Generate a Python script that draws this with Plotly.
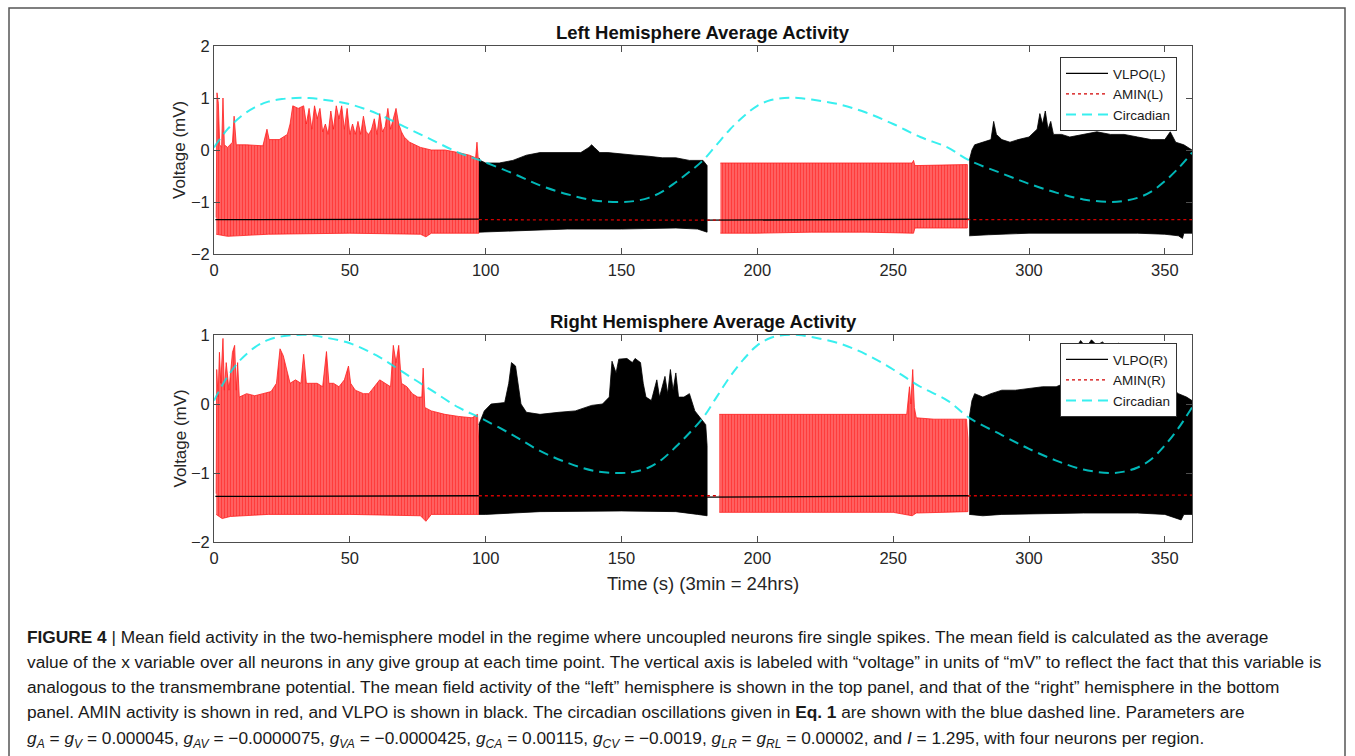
import plotly.graph_objects as go

W, H = 1355, 756

# ---------------- data ----------------
X_TICKS = [0, 50, 100, 150, 200, 250, 300, 350]
Y_TICKS_TOP = [-2, -1, 0, 1, 2]
Y_TICKS_BOT = [-2, -1, 0, 1]

CIRC_T = [0, 5, 10, 15, 20, 25, 30, 35, 40, 50, 60, 70, 80, 90, 98, 110, 120, 130, 140,
          150, 155, 160, 165, 170, 175, 180, 185, 190, 195, 200, 205, 210, 215, 220, 230,
          240, 250, 260, 270, 278, 290, 300, 310, 320, 330, 335, 340, 345, 350, 355, 360]
CIRC_V = [0.05, 0.4, 0.65, 0.82, 0.93, 0.98, 1.0, 1.0, 0.97, 0.88, 0.7, 0.45, 0.2, -0.05,
          -0.2, -0.45, -0.68, -0.85, -0.97, -1.0, -0.98, -0.92, -0.8, -0.62, -0.42, -0.2,
          0.1, 0.4, 0.65, 0.85, 0.96, 1.0, 1.0, 0.97, 0.88, 0.72, 0.5, 0.25, 0.05, -0.2,
          -0.45, -0.65, -0.82, -0.95, -1.0, -0.98, -0.92, -0.8, -0.6, -0.35, -0.05]

# Left hemisphere: envelopes (time, voltage) of the dense oscillation bands
L_AMIN_1_HI = [(0.8, -1.3), (1.1, 1.1), (1.6, 0.9), (2.1, 0.1), (2.8, 0.05), (3.3, 1.0),
               (3.8, 0.1), (5, 0.05), (6.8, 0.15), (7.4, 0.65), (8.2, 0.1), (12, 0.1),
               (18, 0.08), (19.5, 0.4), (20.3, 0.2), (24, 0.2), (27, 0.3), (28, 0.5),
               (29, 0.85), (31, 0.8), (33, 0.85), (34, 0.5), (35, 0.8), (36, 0.4), (37, 0.85),
               (38, 0.6), (39, 0.8), (40, 0.35), (41, 0.5), (42, 0.3), (43, 0.75), (44, 0.4),
               (45, 0.85), (46, 0.6), (47, 0.85), (48, 0.4), (49, 0.8), (50, 0.3), (51, 0.5),
               (52, 0.3), (53, 0.55), (54, 0.3), (55, 0.65), (56, 0.35), (57, 0.3), (58, 0.4),
               (59, 0.6), (60, 0.3), (61, 0.7), (62, 0.35), (63, 0.45), (64, 0.8), (65, 0.4),
               (66, 0.6), (67, 0.8), (68, 0.5), (69, 0.35), (70, 0.25), (72, 0.15), (74, 0.1),
               (76, 0.05), (80, 0.0), (85, 0.0), (90, -0.05), (94, -0.1), (96.3, -0.15),
               (96.8, 0.15), (97.3, -0.2), (97.5, -1.3)]
L_AMIN_1_LO = [(0.8, -1.62), (5, -1.66), (20, -1.62), (50, -1.6), (76, -1.62), (78, -1.67),
               (80, -1.6), (97.5, -1.6)]
L_VLPO_1_HI = [(97.5, -0.15), (98, -0.2), (100, -0.25), (105, -0.25), (110, -0.2), (115, -0.1),
               (120, -0.05), (130, -0.05), (135, -0.05), (138, 0.05), (139, 0.1), (140, 0.05),
               (142, -0.05), (145, -0.05), (150, -0.08), (155, -0.1), (160, -0.12), (165, -0.15),
               (170, -0.15), (175, -0.2), (180, -0.2), (181.5, -0.3)]
L_VLPO_1_LO = [(97.5, -1.58), (110, -1.55), (130, -1.52), (150, -1.52), (170, -1.5), (178, -1.52),
               (181.5, -1.58)]
L_AMIN_2_HI = [(186.4, -0.25), (200, -0.25), (220, -0.24), (240, -0.25), (257, -0.25),
               (257.5, -0.2), (258, -0.3), (277.3, -0.28)]
L_AMIN_2_LO = [(186.4, -1.6), (200, -1.6), (220, -1.58), (240, -1.58), (257.5, -1.6),
               (258, -1.5), (277.3, -1.5)]
L_VLPO_2_HI = [(278, -0.2), (279, 0.0), (280, 0.1), (283, 0.15), (286, 0.2), (287, 0.55),
               (288, 0.3), (290, 0.2), (293, 0.15), (296, 0.2), (300, 0.25), (303, 0.4),
               (304, 0.7), (305, 0.5), (306, 0.75), (307, 0.4), (308, 0.55), (309, 0.3),
               (312, 0.3), (315, 0.25), (320, 0.3), (325, 0.35), (330, 0.3), (335, 0.3),
               (340, 0.25), (345, 0.2), (350, 0.2), (352, 0.35), (354, 0.15), (357, 0.1),
               (360, 0.0)]
L_VLPO_2_LO = [(278, -1.65), (285, -1.63), (300, -1.6), (320, -1.6), (340, -1.6), (350, -1.62),
               (355, -1.65), (356.5, -1.7), (357, -1.6), (360, -1.6)]
L_VLPO_BASE_T = [0.5, 97.5, None, 181.5, 278]
L_VLPO_BASE_V = [-1.34, -1.33, None, -1.35, -1.33]
L_AMIN_BASE_T = [97.5, 186.4, None, 277.3, 360]
L_AMIN_BASE_V = [-1.34, -1.35, None, -1.34, -1.34]

# Right hemisphere
R_AMIN_1_HI = [(0.8, -1.3), (1.0, 0.5), (1.5, 0.1), (2.0, 0.75), (2.5, 0.3), (3.3, 0.95),
               (3.8, 0.2), (4.5, 0.6), (5.5, 0.2), (6.8, 0.75), (7.6, 0.85), (8.2, 0.2),
               (8.7, 0.6), (9.3, 0.1), (12, 0.15), (15, 0.12), (18, 0.15), (21, 0.18),
               (23, 0.3), (24.3, 0.8), (25.5, 0.7), (27, 0.45), (28, 0.3), (30, 0.35), (32, 0.3),
               (33, 0.72), (34, 0.3), (36, 0.3), (38, 0.3), (40, 0.25), (41.4, 0.76), (42.3, 0.3),
               (44, 0.3), (46, 0.25), (48, 0.35), (49.5, 0.55), (50.3, 0.3), (52, 0.2),
               (55, 0.15), (57, 0.15), (59, 0.25), (61, 0.35), (63, 0.3), (65, 0.25),
               (66, 0.85), (67, 0.6), (68, 0.85), (69, 0.3), (71, 0.25), (73, 0.15), (75, 0.1),
               (76.5, 0.1), (77, 0.52), (77.6, -0.05), (80, -0.1), (85, -0.15), (90, -0.18),
               (95, -0.2), (97, -0.15), (97.5, -0.6)]
R_AMIN_1_LO = [(0.8, -1.6), (3, -1.66), (6, -1.63), (20, -1.6), (50, -1.6), (76, -1.62),
               (78, -1.7), (80, -1.6), (97.5, -1.6)]
R_VLPO_1_HI = [(97.5, -0.3), (99.5, -0.1), (102, 0.0), (107, 0.02), (108.5, 0.3), (109.5, 0.6),
               (111, 0.55), (112, 0.25), (113, 0.0), (115, -0.12), (120, -0.15), (127, -0.12),
               (133, -0.1), (139, -0.02), (143, 0.0), (145.5, 0.1), (146.5, 0.62), (148, 0.45),
               (149, 0.65), (152, 0.66), (154, 0.6), (155, 0.66), (157, 0.6), (158, 0.3),
               (159, 0.1), (161, 0.05), (163, 0.35), (164, 0.1), (166, 0.4), (167, 0.15),
               (168, 0.5), (169, 0.2), (170, 0.45), (171, 0.1), (173, 0.1), (175, 0.15),
               (177, -0.1), (179, -0.2), (181, -0.3), (181.5, -0.6)]
R_VLPO_1_LO = [(97.5, -1.6), (100, -1.6), (120, -1.56), (150, -1.55), (170, -1.56), (178, -1.6),
               (181.5, -1.62)]
R_AMIN_2_HI = [(186, -0.15), (200, -0.15), (220, -0.14), (240, -0.15), (250, -0.14),
               (255, -0.15), (256, 0.25), (256.5, 0.0), (257.2, 0.5), (257.8, -0.05),
               (258.5, -0.2), (265, -0.22), (277, -0.22), (277.5, -0.5)]
R_AMIN_2_LO = [(186, -1.57), (220, -1.57), (250, -1.57), (257, -1.62), (258.5, -1.58),
               (277.5, -1.56)]
R_VLPO_2_HI = [(278, -0.2), (279, 0.05), (280, 0.15), (283, 0.1), (286, 0.15), (290, 0.2),
               (295, 0.2), (300, 0.22), (305, 0.25), (310, 0.25), (313, 0.3), (315, 0.88),
               (317, 0.8), (319, 0.92), (321, 0.82), (323, 0.93), (325, 0.85), (327, 0.9),
               (330, 0.8), (333, 0.88), (336, 0.8), (339, 0.87), (342, 0.8), (343, 0.4),
               (345, 0.35), (350, 0.3), (355, 0.15), (358, 0.1), (360, 0.05)]
R_VLPO_2_LO = [(278, -1.6), (283, -1.62), (290, -1.6), (320, -1.58), (340, -1.58), (350, -1.6),
               (356, -1.68), (357, -1.6), (360, -1.6)]
R_VLPO_BASE_T = [0.5, 97.5, None, 181.5, 278]
R_VLPO_BASE_V = [-1.34, -1.33, None, -1.35, -1.33]
R_AMIN_BASE_T = [97.5, 186, None, 277.5, 360]
R_AMIN_BASE_V = [-1.33, -1.33, None, -1.33, -1.32]

TITLES = ["Left Hemisphere Average Activity", "Right Hemisphere Average Activity"]
LEGEND_NAMES = [["VLPO(L)", "AMIN(L)", "Circadian"], ["VLPO(R)", "AMIN(R)", "Circadian"]]
CAPTION_LINES = [
    "<b>FIGURE 4</b> | Mean field activity in the two-hemisphere model in the regime where uncoupled neurons fire single spikes. The mean field is calculated as the average",
    "value of the x variable over all neurons in any give group at each time point. The vertical axis is labeled with \u201cvoltage\u201d in units of \u201cmV\u201d to reflect the fact that this variable is",
    "analogous to the transmembrane potential. The mean field activity of the \u201cleft\u201d hemisphere is shown in the top panel, and that of the \u201cright\u201d hemisphere in the bottom",
    "panel. AMIN activity is shown in red, and VLPO is shown in black. The circadian oscillations given in <b>Eq. 1</b> are shown with the blue dashed line. Parameters are",
    "<i>g<sub>A</sub></i> = <i>g<sub>V</sub></i> = 0.000045, <i>g<sub>AV</sub></i> = \u22120.0000075, <i>g<sub>VA</sub></i> = \u22120.0000425, <i>g<sub>CA</sub></i> = 0.00115, <i>g<sub>CV</sub></i> = \u22120.0019, <i>g<sub>LR</sub></i> = <i>g<sub>RL</sub></i> = 0.00002, and <i>I</i> = 1.295, with four neurons per region.",
]

# ---------------- figure ----------------
FONT = "Liberation Sans, Arial, sans-serif"
AXC = "#4d4d4d"
CYAN = "rgba(0,235,235,0.78)"

fig = go.Figure()


def band(hi, lo, xa, ya, kind):
    xs = [p[0] for p in hi] + [p[0] for p in reversed(lo)]
    ys = [p[1] for p in hi] + [p[1] for p in reversed(lo)]
    if kind == "red":
        fig.add_trace(go.Scatter(
            x=xs, y=ys, mode="lines", fill="toself",
            fillcolor="rgb(255,60,60)",
            fillpattern=dict(shape="|", fgcolor="rgb(255,0,0)", bgcolor="rgb(255,120,120)",
                             size=3, solidity=0.6),
            line=dict(color="rgb(255,30,30)", width=0.8),
            showlegend=False, hoverinfo="skip", xaxis=xa, yaxis=ya))
    else:
        fig.add_trace(go.Scatter(
            x=xs, y=ys, mode="lines", fill="toself", fillcolor="black",
            line=dict(color="black", width=0.8),
            showlegend=False, hoverinfo="skip", xaxis=xa, yaxis=ya))


panels = [
    dict(xa="x", ya="y", legend="legend",
         bands=[(L_AMIN_1_HI, L_AMIN_1_LO, "red"), (L_VLPO_1_HI, L_VLPO_1_LO, "black"),
                (L_AMIN_2_HI, L_AMIN_2_LO, "red"), (L_VLPO_2_HI, L_VLPO_2_LO, "black")],
         vb=(L_VLPO_BASE_T, L_VLPO_BASE_V), ab=(L_AMIN_BASE_T, L_AMIN_BASE_V), names=LEGEND_NAMES[0]),
    dict(xa="x2", ya="y2", legend="legend2",
         bands=[(R_AMIN_1_HI, R_AMIN_1_LO, "red"), (R_VLPO_1_HI, R_VLPO_1_LO, "black"),
                (R_AMIN_2_HI, R_AMIN_2_LO, "red"), (R_VLPO_2_HI, R_VLPO_2_LO, "black")],
         vb=(R_VLPO_BASE_T, R_VLPO_BASE_V), ab=(R_AMIN_BASE_T, R_AMIN_BASE_V), names=LEGEND_NAMES[1]),
]

for p in panels:
    for hi, lo, kind in p["bands"]:
        band(hi, lo, p["xa"], p["ya"], kind)
    fig.add_trace(go.Scatter(x=p["vb"][0], y=p["vb"][1], mode="lines", name=p["names"][0],
                             line=dict(color="black", width=1.3), legend=p["legend"],
                             xaxis=p["xa"], yaxis=p["ya"], hoverinfo="skip"))
    fig.add_trace(go.Scatter(x=p["ab"][0], y=p["ab"][1], mode="lines", name=p["names"][1],
                             line=dict(color="rgb(210,0,0)", width=1.3, dash="dot"),
                             legend=p["legend"], xaxis=p["xa"], yaxis=p["ya"], hoverinfo="skip"))
    fig.add_trace(go.Scatter(x=CIRC_T, y=CIRC_V, mode="lines", name=p["names"][2],
                             line=dict(color=CYAN, width=2, dash="10px,6px", shape="spline"),
                             legend=p["legend"], xaxis=p["xa"], yaxis=p["ya"], hoverinfo="skip"))

xdom = [214 / W, 1192 / W]
axis_common = dict(showline=True, linecolor=AXC, linewidth=1, mirror="ticks", ticks="inside",
                   ticklen=6, tickcolor=AXC, showgrid=False, zeroline=False,
                   tickfont=dict(family=FONT, size=16.5, color="#262626"))

legend_common = dict(xanchor="left", yanchor="top", bgcolor="white", bordercolor="#333333",
                     borderwidth=1, tracegroupgap=0, itemwidth=42,
                     font=dict(family=FONT, size=13.5, color="#1a1a1a"))

fig.update_layout(
    width=W, height=H, margin=dict(l=0, r=0, t=0, b=0, autoexpand=False),
    paper_bgcolor="white", plot_bgcolor="white",
    xaxis=dict(domain=xdom, range=[0, 360], tickvals=X_TICKS, anchor="y",
               ticklabelstandoff=1, **axis_common),
    yaxis=dict(domain=[1 - 254 / H, 1 - 46 / H], range=[-2, 2], tickvals=Y_TICKS_TOP, anchor="x",
               ticklabelstandoff=0, **axis_common),
    xaxis2=dict(domain=xdom, range=[0, 360], tickvals=X_TICKS, anchor="y2",
                ticklabelstandoff=1, **axis_common),
    yaxis2=dict(domain=[1 - 542 / H, 1 - 335 / H], range=[-2, 1], tickvals=Y_TICKS_BOT, anchor="x2",
                ticklabelstandoff=0, **axis_common),
    legend=dict(x=1060 / W, y=1 - 57 / H, **legend_common),
    legend2=dict(x=1060 / W, y=1 - 343 / H, **legend_common),
    showlegend=True,
)

ann = []
cx = (214 + 1192) / 2 / W
for txt, yy in [(TITLES[0], 32), (TITLES[1], 321)]:
    ann.append(dict(text="<b>%s</b>" % txt, x=cx, y=1 - yy / H, xref="paper", yref="paper",
                    showarrow=False, xanchor="center", yanchor="middle",
                    font=dict(family=FONT, size=18.5, color="#111111")))
for yy in [150, 438.5]:
    ann.append(dict(text="Voltage (mV)", x=180 / W, y=1 - yy / H, textangle=-90,
                    xref="paper", yref="paper", showarrow=False, xanchor="center",
                    yanchor="middle", font=dict(family=FONT, size=17, color="#262626")))
ann.append(dict(text="Time (s) (3min = 24hrs)", x=cx, y=1 - 583 / H, xref="paper", yref="paper",
                showarrow=False, xanchor="center", yanchor="middle",
                font=dict(family=FONT, size=18.5, color="#262626")))
CAPTION_Y = [637, 662, 687, 712, 739]
for line, yy in zip(CAPTION_LINES, CAPTION_Y):
    ann.append(dict(text=line, x=25 / W, y=1 - yy / H, xref="paper", yref="paper",
                    showarrow=False, xanchor="left", yanchor="middle", align="left",
                    font=dict(family=FONT, size=17.3, color="#1a1a1a")))
fig.update_layout(annotations=ann)

fig.add_shape(type="rect", xref="paper", yref="paper", x0=9 / W, x1=1345 / W, y0=-0.05,
              y1=1 - 8 / H, line=dict(color="#555555", width=1.5), fillcolor="rgba(0,0,0,0)",
              layer="below")

fig.write_html("out.html", config={"displayModeBar": False},
               post_script="document.body.style.margin='0px';")
